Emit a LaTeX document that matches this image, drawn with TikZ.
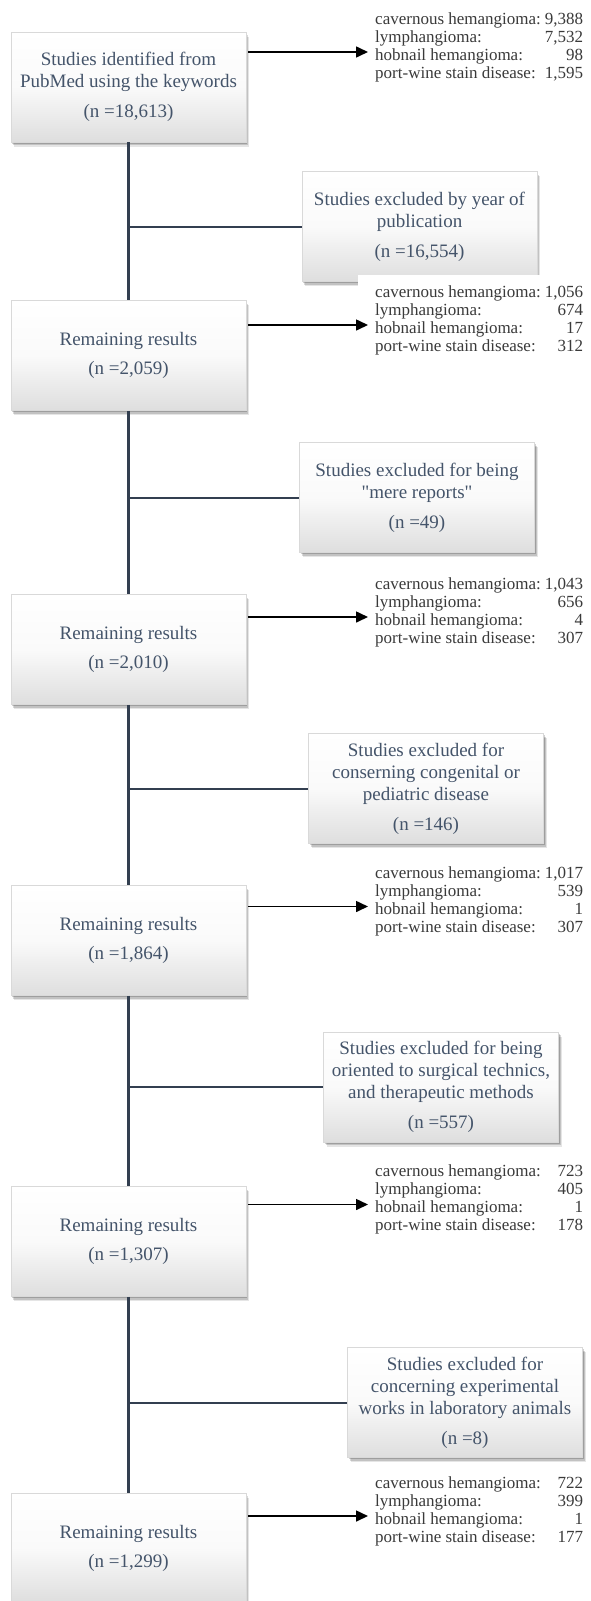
\documentclass[tikz,border=0pt]{standalone}
\usepackage{fontspec}
\setmainfont{Liberation Serif}
\font\qf="Liberation Serif" at 19pt
\usetikzlibrary{shadows,arrows.meta}
\definecolor{txtc}{HTML}{44546A}
\definecolor{lstc}{HTML}{3A3A3A}
\definecolor{trunkc}{HTML}{333F50}
\newcommand\boxfont{\fontsize{19}{22}\selectfont}
\newcommand\lstfont{\fontsize{17}{18}\selectfont}
\newcommand\lrow[2]{\makebox[208pt]{#1\hfill #2}}
\begin{document}
\begin{tikzpicture}[x=1pt,y=-1pt,
  flowbox/.style={draw=black!15, line width=0.5pt,
    top color=white, bottom color=black!13, middle color=black!2,
    drop shadow={shadow xshift=1pt, shadow yshift=-1.5pt, opacity=0.18, fill=black},
    drop shadow={shadow xshift=2pt, shadow yshift=-3pt, opacity=0.15, fill=black},
    drop shadow={shadow xshift=3pt, shadow yshift=-4.5pt, opacity=0.1, fill=black},
    minimum width=235pt, minimum height=110pt, inner sep=0pt,
    align=center, text=txtc, font=\boxfont},
  countlist/.style={anchor=west, fill=white, inner xsep=17pt, inner ysep=10pt,
    align=left, text=lstc, font=\lstfont},
  trunk/.style={draw=trunkc, line width=2.5pt},
  branch/.style={draw=trunkc, line width=2pt},
  arr/.style={draw=black, line width=1.6pt, shorten <=2pt,
    -{Triangle[length=12pt,width=11pt]}}
]
\useasboundingbox (0,0) rectangle (590,1601);
\fill[white] (0,0) rectangle (590,1601);

% main column
\node[flowbox] (b1) at (128.5,87) {Studies identified from\\PubMed using the keywords\\[8pt](n =18,613)};
\node[flowbox] (b2) at (128.5,355.5) {Remaining results\\[7pt](n =2,059)};
\node[flowbox] (b3) at (128.5,649.5) {Remaining results\\[7pt](n =2,010)};
\node[flowbox] (b4) at (128.5,940.5) {Remaining results\\[7pt](n =1,864)};
\node[flowbox] (b5) at (128.5,1241.5) {Remaining results\\[7pt](n =1,307)};
\node[flowbox] (b6) at (128.5,1548) {Remaining results\\[7pt](n =1,299)};

% exclusion boxes
\node[flowbox] (e1) at (419.5,226.5) {Studies excluded by year of\\publication\\[8pt](n =16,554)};
\node[flowbox] (e2) at (417,497.5) {Studies excluded for being\\{\qf "}mere reports{\qf "}\\[8pt](n =49)};
\node[flowbox] (e3) at (426,788.5) {Studies excluded for\\conserning congenital or\\pediatric disease\\[8pt](n =146)};
\node[flowbox] (e4) at (441,1087) {Studies excluded for being\\oriented to surgical technics,\\and therapeutic methods\\[8pt](n =557)};
\node[flowbox] (e5) at (465,1402.5) {Studies excluded for\\concerning experimental\\works in laboratory animals\\[8pt](n =8)};

% trunk and branches
\draw[trunk] (b1.south) -- (b2.north);
\draw[trunk] (b2.south) -- (b3.north);
\draw[trunk] (b3.south) -- (b4.north);
\draw[trunk] (b4.south) -- (b5.north);
\draw[trunk] (b5.south) -- (b6.north);
\draw[branch] (b1.south |- e1.west) -- (e1.west);
\draw[branch] (b2.south |- e2.west) -- (e2.west);
\draw[branch] (b3.south |- e3.west) -- (e3.west);
\draw[branch] (b4.south |- e4.west) -- (e4.west);
\draw[branch] (b5.south |- e5.west) -- (e5.west);

% count lists
\node[countlist] (l1) at (358,47) {\lrow{cavernous hemangioma:}{9,388}\\\lrow{lymphangioma:}{7,532}\\\lrow{hobnail hemangioma:}{98}\\\lrow{port-wine stain disease:}{1,595}};
\node[countlist] (l2) at (358,320) {\lrow{cavernous hemangioma:}{1,056}\\\lrow{lymphangioma:}{674}\\\lrow{hobnail hemangioma:}{17}\\\lrow{port-wine stain disease:}{312}};
\node[countlist] (l3) at (358,612) {\lrow{cavernous hemangioma:}{1,043}\\\lrow{lymphangioma:}{656}\\\lrow{hobnail hemangioma:}{4}\\\lrow{port-wine stain disease:}{307}};
\node[countlist] (l4) at (358,901.5) {\lrow{cavernous hemangioma:}{1,017}\\\lrow{lymphangioma:}{539}\\\lrow{hobnail hemangioma:}{1}\\\lrow{port-wine stain disease:}{307}};
\node[countlist] (l5) at (358,1199.5) {\lrow{cavernous hemangioma:}{723}\\\lrow{lymphangioma:}{405}\\\lrow{hobnail hemangioma:}{1}\\\lrow{port-wine stain disease:}{178}};
\node[countlist] (l6) at (358,1511) {\lrow{cavernous hemangioma:}{722}\\\lrow{lymphangioma:}{399}\\\lrow{hobnail hemangioma:}{1}\\\lrow{port-wine stain disease:}{177}};

% arrows
\coordinate (a1) at (368,52);
\coordinate (a2) at (368,325);
\coordinate (a3) at (368,617);
\coordinate (a4) at (368,906.5);
\coordinate (a5) at (368,1204.5);
\coordinate (a6) at (368,1516);
\draw[arr] (b1.east |- a1) -- (a1);
\draw[arr] (b2.east |- a2) -- (a2);
\draw[arr] (b3.east |- a3) -- (a3);
\draw[arr] (b4.east |- a4) -- (a4);
\draw[arr] (b5.east |- a5) -- (a5);
\draw[arr] (b6.east |- a6) -- (a6);
\end{tikzpicture}
\end{document}
